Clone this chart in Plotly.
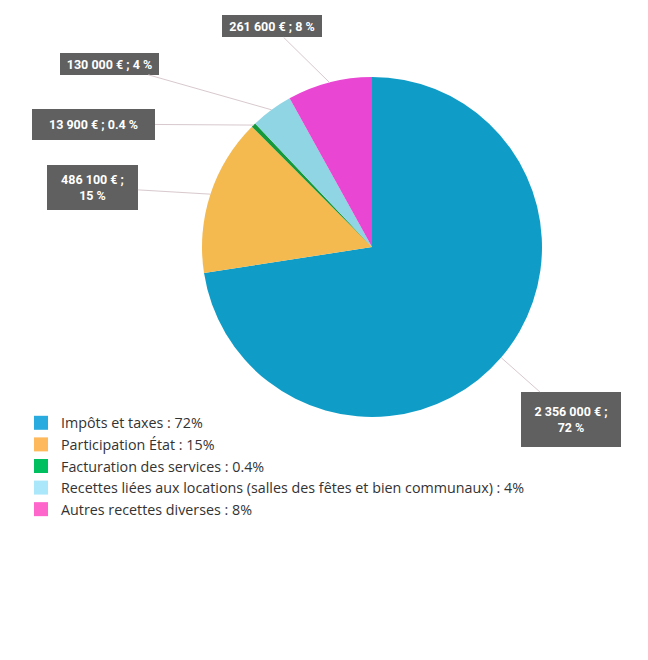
import math
import plotly.graph_objects as go

# ---- data ----
categories = [
    "Impôts et taxes : 72%",
    "Participation État : 15%",
    "Facturation des services : 0.4%",
    "Recettes liées aux locations (salles des fêtes et bien communaux) : 4%",
    "Autres recettes diverses : 8%",
]
amounts = [2356000, 486100, 13900, 130000, 261600]
value_labels = [
    "2 356 000 € ;<br>72 %",
    "486 100 € ;<br>15 %",
    "13 900 € ; 0.4 %",
    "130 000 € ; 4 %",
    "261 600 € ; 8 %",
]

# ---- styles ----
pie_colors = ["#0f9dc7", "#f4b94f", "#15993c", "#8fd5e4", "#e946d4"]
legend_colors = ["#29abe0", "#ffb95d", "#00bf5f", "#abe7fb", "#ff66cc"]
# label box offsets (px from slice edge) and sizes (px)
label_offsets = [(70, 62), (-118, -7), (-160, -1), (-162, -46), (-57, -56)]
label_sizes = [(100, 55), (91, 45), (123, 31), (99, 22), (100, 22)]

W, H = 648, 660
cx, cy, r = 372, 247, 170  # pie geometry in px

fig = go.Figure()
fig.add_trace(go.Pie(
    labels=categories,
    values=amounts,
    sort=False,
    direction="clockwise",
    rotation=0,
    marker=dict(colors=pie_colors, line=dict(width=0)),
    textinfo="none",
    hoverinfo="label+value",
    showlegend=False,
    domain=dict(x=[(cx - r) / W, (cx + r) / W], y=[1 - (cy + r) / H, 1 - (cy - r) / H]),
))

# legend entries
for name, col in zip(categories, legend_colors):
    fig.add_trace(go.Scatter(
        x=[None], y=[None], mode="markers", name=name,
        marker=dict(symbol="square", size=14, color=col),
        hoverinfo="skip",
    ))

# annotations from slice mid-angles
total = sum(amounts)
cum = 0
annotations = []
for val, txt, (ax, ay), (bw, bh) in zip(amounts, value_labels, label_offsets, label_sizes):
    mid = (cum + val / 2) / total
    cum += val
    ang = 2 * math.pi * mid
    px = cx + r * math.sin(ang)
    py = cy - r * math.cos(ang)
    annotations.append(dict(
        x=px / W, y=1 - py / H, xref="paper", yref="paper",
        text=txt, showarrow=True, arrowhead=0, arrowwidth=1,
        arrowcolor="#d8c9cd", ax=ax, ay=ay, standoff=0,
        bgcolor="#606060", borderpad=0, borderwidth=0,
        width=bw, height=bh, align="center", valign="middle",
        font=dict(family="Roboto, sans-serif", size=12.5, color="white", weight="bold"),
    ))

fig.update_layout(
    width=W, height=H,
    margin=dict(l=0, r=0, t=0, b=0),
    paper_bgcolor="white", plot_bgcolor="white",
    xaxis=dict(visible=False), yaxis=dict(visible=False),
    annotations=annotations,
    legend=dict(
        x=21 / W, y=1 - 407 / H, xanchor="left", yanchor="top",
        font=dict(family="Open Sans, sans-serif", size=14.3, color="#333333"),
        bgcolor="rgba(0,0,0,0)",
    ),
    hovermode=False,
)

fig.write_html("out.html")
